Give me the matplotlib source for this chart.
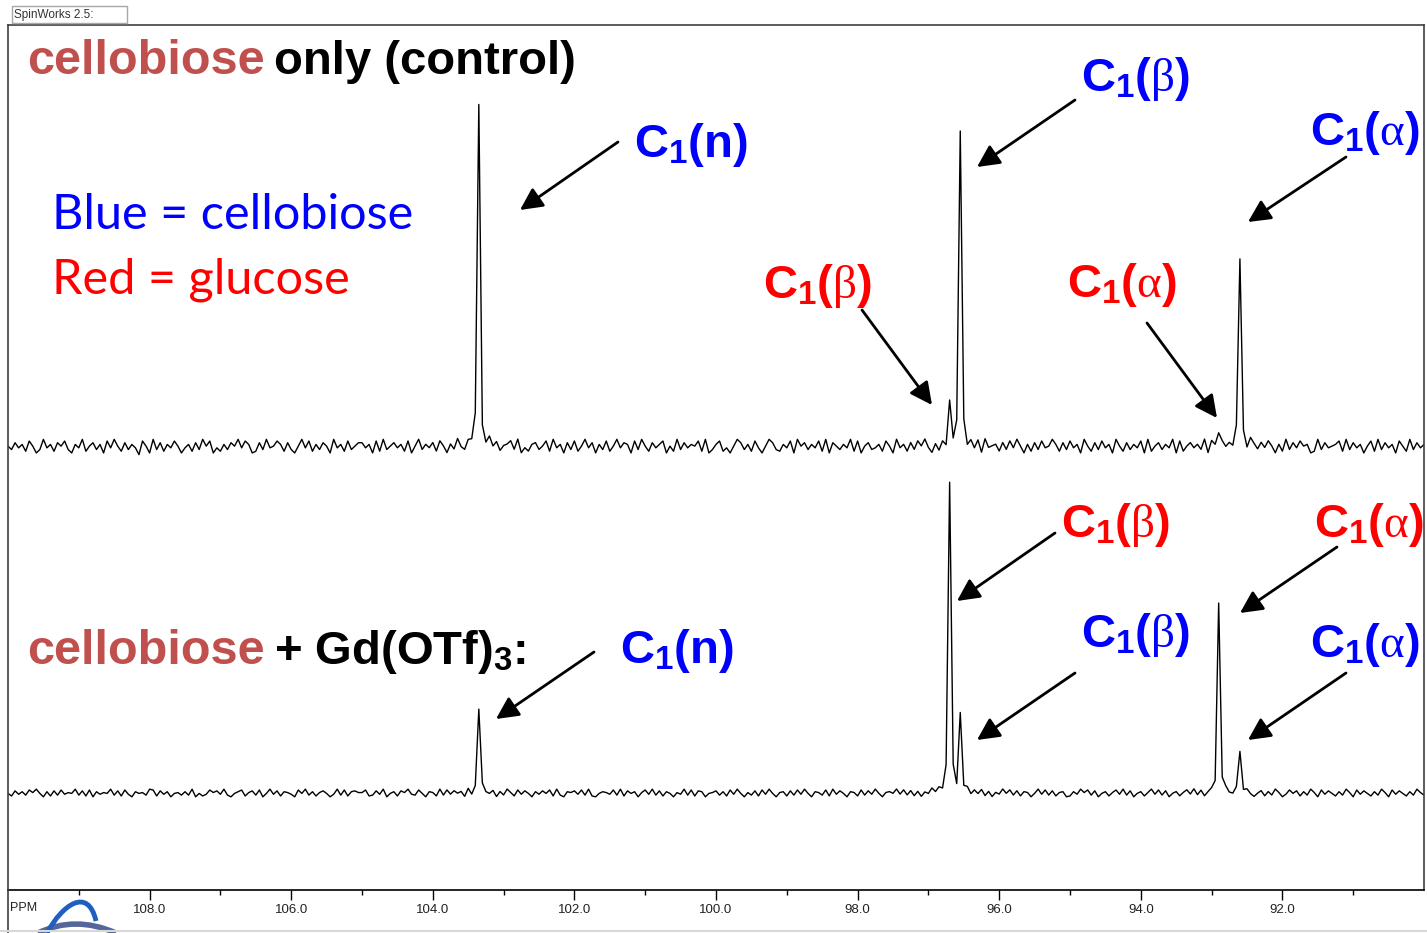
import matplotlib
matplotlib.use('Agg')
import matplotlib.pyplot as plt
import numpy as np
from matplotlib.patches import Rectangle, PathPatch
from matplotlib.path import Path
from matplotlib.lines import Line2D

W, H = 1427, 933

# spectrum x range (ppm), sampled every 0.05 ppm
ppm_left, ppm_right, ppm_step = 110.0, 90.0, 0.05
hwhm = 0.015

# peaks: position (ppm) and height (px above baseline)
top_ppm = [103.35, 96.70, 96.55, 92.90, 92.60]
top_height = [340, 38, 308, 18, 194]
bot_ppm = [103.35, 96.70, 96.55, 92.90, 92.60]
bot_height = [86, 313, 77, 186, 45]

# baseline wiggle, one digit per sample (0..9, centred on 4.5)
top_noise = ("53746285139462758316492573618495273640851937264851"
             "46273958142637594861273945862731594826375194628357"
             "74618293574628159364728516394275861394725683914267"
             "35829461738259471638259476183952746815293746582913"
             "68241597362841597326481957364829175364928157346285"
             "19462738594162738459627381945627384951627384596273"
             "84619527384619527364819257364918257463918527463815"
             "29637485162937485612937456829374615829374618529374"
             "61857294638157294683715926483715926487315926438751"
             "92648375162948375619248376519248367519243867519246")
bot_noise = ("41736285940617283549271806354927183064529817360452"
             "62904138573920468157280493716530849261574039281675"
             "58127390461759328406519283746091528437062951837406"
             "37481920657382910465382917460583927164053928176045"
             "72618394052718394056172839406528193740651827394056"
             "49382716053948271605492738160539482716504938271560"
             "16395827046158392704615938270461583927046195832704"
             "83047162950384716295083741629508374162950837416295"
             "27591638402759136840275193684027519368402759163840"
             "90516284739051628473905162847390516284739051628473")

top_base, bot_base = 443, 97      # baselines, px above the ppm axis
top_amp, bot_amp = 1.7, 0.85

major_ticks = [108, 106, 104, 102, 100, 98, 96, 94, 92]
minor_ticks = [109, 107, 105, 103, 101, 99, 97, 95, 93, 91]

BLUE = '#0000FF'
RED = '#FF0000'
BRICK = '#C0504D'

plt.rcParams['font.family'] = ['Liberation Sans', 'DejaVu Sans']
plt.rcParams['mathtext.fontset'] = 'custom'
plt.rcParams['mathtext.rm'] = 'Liberation Sans:bold'
plt.rcParams['mathtext.bf'] = 'Liberation Sans:bold'
plt.rcParams['mathtext.it'] = 'Liberation Serif'


def spectrum(centres, heights, noise, amp, base, n):
    x = ppm_left - ppm_step * np.arange(n)
    y = np.array([int(c) for c in noise[:n]], float)
    y = (y - 4.5) * amp + base
    for c, h in zip(centres, heights):
        y += h / (1 + ((x - c) / hwhm) ** 2)
    return x, y


def fp(x, y):
    return (x / W, 1 - y / H)


fig = plt.figure(figsize=(W / 100, H / 100), dpi=100)
ax = fig.add_axes([8 / W, 43 / H, 1416 / W, 865 / H])

n = int(round((ppm_left - ppm_right) / ppm_step)) + 1
x1, y1 = spectrum(top_ppm, top_height, top_noise, top_amp, top_base, n)
x2, y2 = spectrum(bot_ppm, bot_height, bot_noise, bot_amp, bot_base, n)
ax.plot(x1, y1, color='black', lw=1.0)
ax.plot(x2, y2, color='black', lw=1.0)

ax.set_xlim(ppm_left, ppm_right)
ax.set_ylim(0, 865)
ax.set_yticks([])
ax.set_xticks(major_ticks)
ax.set_xticks(minor_ticks, minor=True)
ax.set_xticklabels(['%.1f' % t for t in major_ticks])
ax.tick_params(axis='x', which='major', direction='out', length=7, width=1,
               pad=3, labelsize=9.5, labelcolor='#222222')
ax.tick_params(axis='x', which='minor', direction='out', length=3.5, width=1)
for s in ['top', 'left', 'right']:
    ax.spines[s].set_color('#404040')
    ax.spines[s].set_linewidth(1.2)
ax.spines['bottom'].set_linewidth(1.2)

# frame pieces below the axis
fig.add_artist(Line2D([8 / W, 8 / W], [0, 43 / H], color='#404040', lw=1.2))
fig.add_artist(Line2D([0, 1], [2 / H, 2 / H], color='#d8d8d8', lw=1.5))
fig.text(10 / W, 1 - 908 / H, 'PPM', fontsize=9, va='center', color='#222222')

# SpinWorks caption box
fig.add_artist(Rectangle(fp(12, 23), 115 / W, 17 / H, transform=fig.transFigure,
                         facecolor='white', edgecolor='#a8a8a8', lw=1))
fig.text(14 / W, 1 - 15 / H, 'SpinWorks 2.5:', fontsize=8.5, va='center',
         color='#333333')

# logo swoosh in the corner
logo1 = Path([fp(47, 933), fp(62, 905), fp(88, 886), fp(96, 921)],
             [Path.MOVETO, Path.CURVE4, Path.CURVE4, Path.CURVE4])
logo2 = Path([fp(38, 933), fp(75, 915), fp(116, 933)],
             [Path.MOVETO, Path.CURVE3, Path.CURVE3])
fig.add_artist(PathPatch(logo2, transform=fig.transFigure, fill=False,
                         edgecolor='#55679a', lw=4))
fig.add_artist(PathPatch(logo1, transform=fig.transFigure, fill=False,
                         edgecolor='#1f5fbf', lw=3.5))

# headings
fig.text(27 / W, 1 - 74 / H, 'cellobiose', color=BRICK, fontsize=35,
         fontweight='bold')
fig.text(274 / W, 1 - 74 / H, 'only (control)', color='black', fontsize=34,
         fontweight='bold')
fig.text(27 / W, 1 - 664 / H, 'cellobiose', color=BRICK, fontsize=35,
         fontweight='bold')
fig.text(274 / W, 1 - 664 / H, r'+ Gd(OTf)$_\mathbf{3}$:', color='black',
         fontsize=34, fontweight='bold')

fig.text(52 / W, 1 - 229 / H, 'Blue = cellobiose', color=BLUE, fontsize=35,
         family=['Lato', 'DejaVu Sans'])
fig.text(52 / W, 1 - 293 / H, 'Red = glucose', color=RED, fontsize=35,
         family=['Lato', 'DejaVu Sans'])

# peak labels: text, colour, left x, baseline y, arrow tail, arrow head
labels = [
    (r'C$_\mathbf{1}$(n)', BLUE, 634, 157, (618, 142), (520, 210)),
    (r'C$_\mathbf{1}$($\beta$)', BLUE, 1081, 91, (1075, 100), (977, 167)),
    (r'C$_\mathbf{1}$($\alpha$)', BLUE, 1310, 145, (1346, 157), (1248, 222)),
    (r'C$_\mathbf{1}$($\beta$)', RED, 763, 298, (862, 310), (932, 405)),
    (r'C$_\mathbf{1}$($\alpha$)', RED, 1067, 297, (1147, 323), (1217, 418)),
    (r'C$_\mathbf{1}$($\beta$)', RED, 1061, 537, (1055, 533), (957, 601)),
    (r'C$_\mathbf{1}$($\alpha$)', RED, 1314, 537, (1337, 547), (1240, 613)),
    (r'C$_\mathbf{1}$($\beta$)', BLUE, 1081, 647, (1075, 673), (977, 740)),
    (r'C$_\mathbf{1}$($\alpha$)', BLUE, 1310, 657, (1346, 673), (1248, 740)),
    (r'C$_\mathbf{1}$(n)', BLUE, 620, 663, (594, 652), (496, 719)),
]
for txt, col, lx, ly, tail, head in labels:
    fig.text(lx / W, 1 - ly / H, txt, color=col, fontsize=34,
             fontweight='bold')
    fig.add_artist(plt.Annotation('', xy=fp(*head), xytext=fp(*tail),
                                  xycoords='figure fraction',
                                  textcoords='figure fraction',
                                  arrowprops=dict(arrowstyle='-|>,head_length=0.9,head_width=0.45',
                                                  mutation_scale=15, lw=2,
                                                  color='black',
                                                  shrinkA=0, shrinkB=0)))

fig.savefig('out.png', dpi=100)
